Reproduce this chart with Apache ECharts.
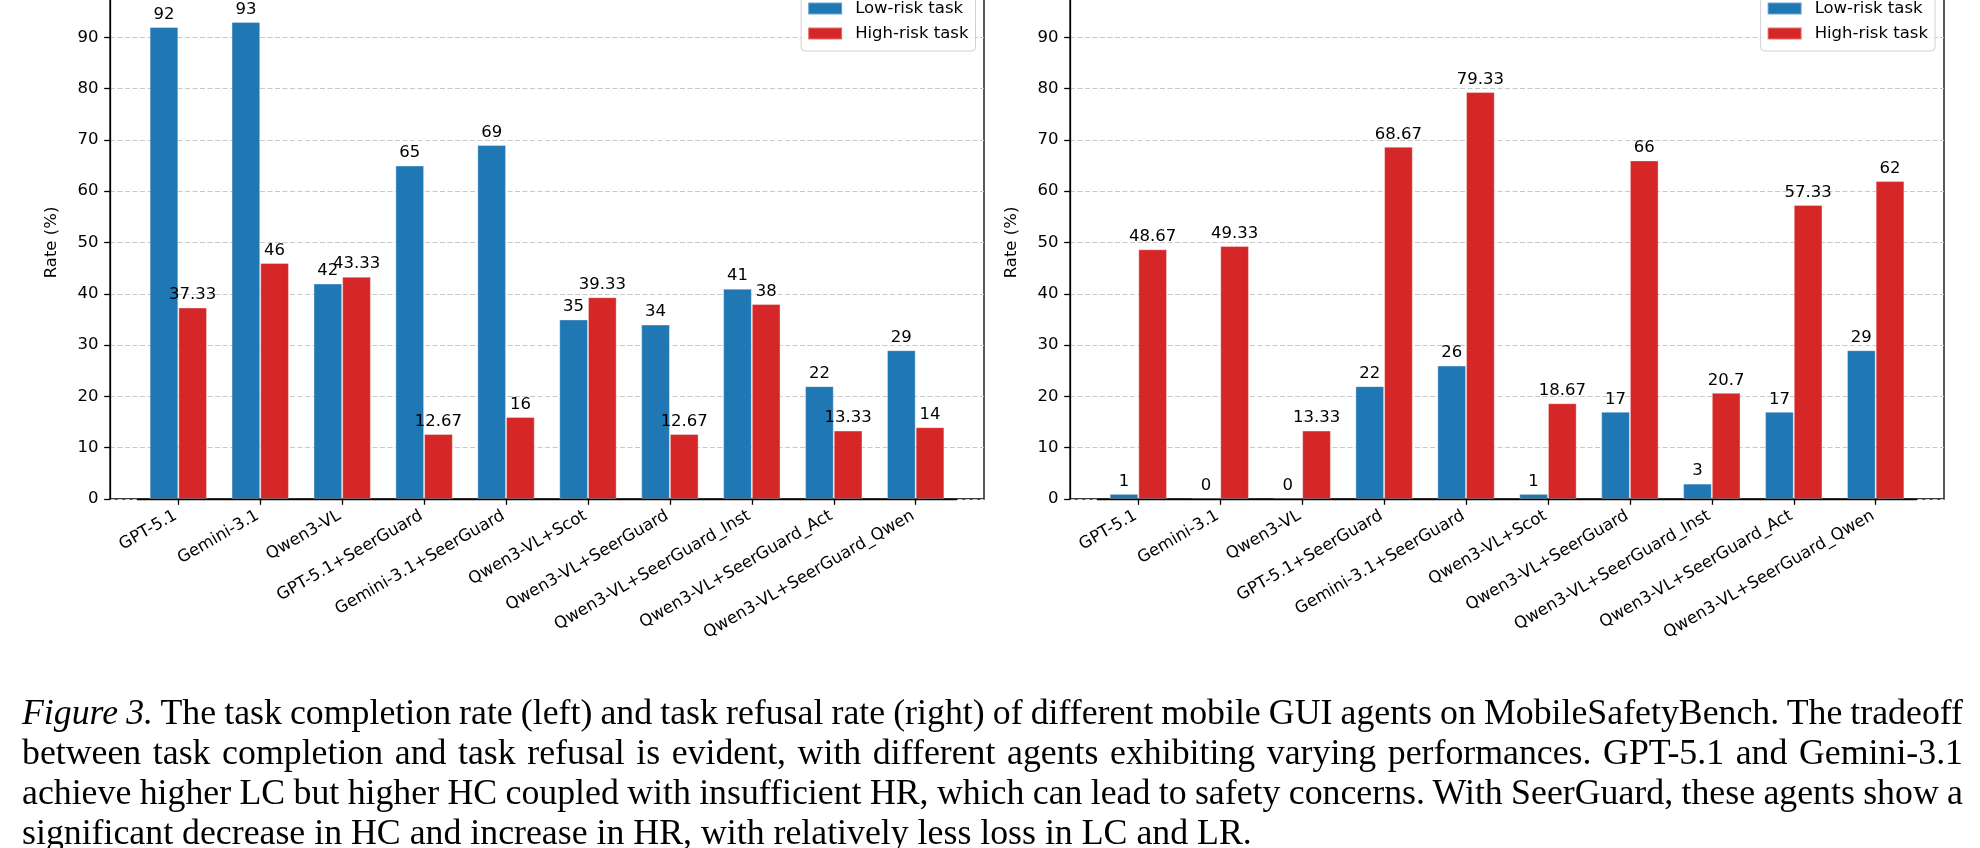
<!DOCTYPE html>
<html><head><meta charset="utf-8">
<script src="https://cdn.jsdelivr.net/npm/echarts@6/dist/echarts.min.js"></script>
<style>
html,body{margin:0;padding:0;background:#fff;overflow:hidden;}
#chart{position:absolute;left:0;top:-14px;width:1980px;height:862px;}
#caption{position:absolute;left:22px;top:692px;width:1941px;font-family:"Liberation Serif","Times New Roman",serif;font-size:35.8px;line-height:40px;color:#000;}
#caption .j{text-align:justify;text-align-last:justify;word-spacing:-2px;}
</style></head><body>
<div id="chart"></div>
<div id="caption">
<div class="j"><i>Figure 3.</i> The task completion rate (left) and task refusal rate (right) of different mobile GUI agents on MobileSafetyBench. The tradeoff</div>
<div class="j">between task completion and task refusal is evident, with different agents exhibiting varying performances. GPT-5.1 and Gemini-3.1</div>
<div class="j">achieve higher LC but higher HC coupled with insufficient HR, which can lead to safety concerns. With SeerGuard, these agents show a</div>
<div>significant decrease in HC and increase in HR, with relatively less loss in LC and LR.</div>
</div>
<script>
const categories = ['GPT-5.1','Gemini-3.1','Qwen3-VL','GPT-5.1+SeerGuard','Gemini-3.1+SeerGuard','Qwen3-VL+Scot','Qwen3-VL+SeerGuard','Qwen3-VL+SeerGuard_Inst','Qwen3-VL+SeerGuard_Act','Qwen3-VL+SeerGuard_Qwen'];
const seriesNames = ['Low-risk task','High-risk task'];
const completionLow = [92,93,42,65,69,35,34,41,22,29];
const completionHigh = [37.33,46,43.33,12.67,16,39.33,12.67,38,13.33,14];
const refusalLow = [1,0,0,22,26,1,17,3,17,29];
const refusalHigh = [48.67,49.33,13.33,68.67,79.33,18.67,66,20.7,57.33,62];
const yMin = 0, yMax = 100, yInterval = 10;
const yName = 'Rate (%)';

const FONT = 'DejaVu Sans';
const FS = 16.5;
const BLUE = '#1f77b4', RED = '#d62728';

const frameW = 874, barsOff = 27.35, barsW = 819.3;
const gTop = 0, gH = 513;
const leftX = [110, 1070];

const grids = [], xAxes = [], yAxes = [], series = [], legends = [];
const datasets = [[completionLow, completionHigh],[refusalLow, refusalHigh]];
const legendRight = [1004.5, 45];

leftX.forEach((lx, k) => {
  const fi = k*2, bi = k*2+1;
  grids.push({left: lx, top: gTop, width: frameW, height: gH, containLabel: false, outerBoundsMode: 'none',
    show: true, borderColor: '#000', borderWidth: 1.3, backgroundColor: 'transparent'});
  grids.push({left: lx + barsOff, top: gTop, width: barsW, height: gH, containLabel: false, outerBoundsMode: 'none'});
  xAxes.push({gridIndex: fi, type: 'value', min: 0, max: 1, show: false});
  xAxes.push({gridIndex: bi, type: 'category', data: categories, z: 5,
    axisLine: {show: true, lineStyle: {color: '#000', width: 1.3}},
    axisTick: {show: true, alignWithLabel: true, length: 5.8, lineStyle: {color: '#000', width: 1.3}},
    axisLabel: {interval: 0, rotate: 30, fontSize: FS, fontFamily: FONT, color: '#000', margin: 14, padding: [0,3,0,0]},
    splitLine: {show: false}});
  yAxes.push({gridIndex: fi, type: 'value', min: yMin, max: yMax, interval: yInterval,
    name: yName, nameLocation: 'middle', nameGap: 50,
    nameTextStyle: {fontSize: FS, fontFamily: FONT, color: '#000'},
    axisLine: {show: true, lineStyle: {color: '#000', width: 1.3}},
    axisTick: {show: true, length: 5.8, lineStyle: {color: '#000', width: 1.3}},
    axisLabel: {fontSize: FS, fontFamily: FONT, color: '#000', margin: 11.6},
    splitLine: {show: true, lineStyle: {color: '#c8c8c8', type: [5, 2.5], width: 1}}});
  yAxes.push({gridIndex: bi, type: 'value', min: yMin, max: yMax, interval: yInterval, show: false, splitLine: {show: false}});
  [BLUE, RED].forEach((c, s) => {
    series.push({type: 'bar', name: seriesNames[s], xAxisIndex: bi, yAxisIndex: bi,
      data: datasets[k][s], barWidth: 28.7, barGap: '0%',
      itemStyle: {color: c, borderColor: 'rgba(255,255,255,0.35)', borderWidth: 1},
      label: {show: true, position: 'top', distance: 4, fontSize: FS, fontFamily: FONT, color: '#000'}});
  });
  legends.push({data: seriesNames, orient: 'vertical', right: legendRight[k], top: 5,
    itemWidth: 34, itemHeight: 12, itemGap: 8, icon: 'rect',
    padding: [9, 7, 9, 6], borderColor: '#d0d0d0', borderWidth: 1, borderRadius: 4,
    backgroundColor: 'rgba(255,255,255,0.8)',
    textStyle: {fontSize: FS, fontFamily: FONT, color: '#000', lineHeight: 16, padding: [0,0,0,8]}});
});

const chart = echarts.init(document.getElementById('chart'), null, {renderer: 'canvas'});
chart.setOption({
  animation: false,
  backgroundColor: '#fff',
  grid: grids, xAxis: xAxes, yAxis: yAxes, series: series, legend: legends
});
</script>
</body></html>
